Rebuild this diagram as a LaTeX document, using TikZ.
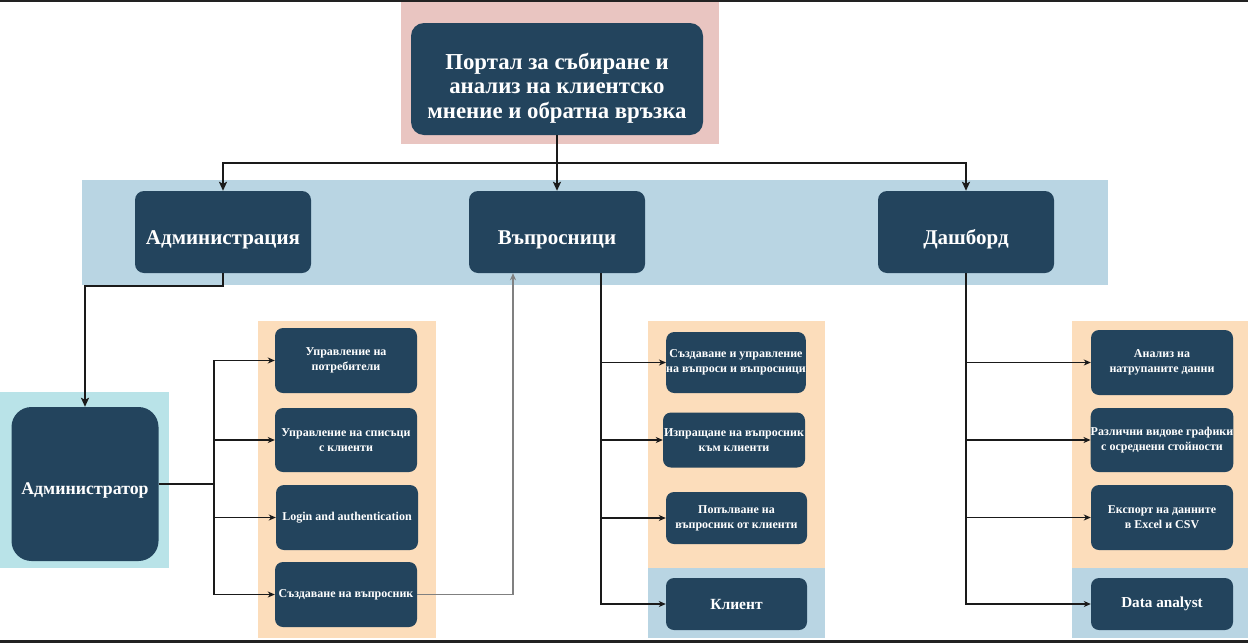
\documentclass[tikz,border=0pt]{standalone}
\usepackage{fontspec}
\setmainfont{Liberation Serif}
\usetikzlibrary{arrows.meta,positioning}

\definecolor{navy}{HTML}{23445D}
\definecolor{pinkbg}{HTML}{E9C5C1}
\definecolor{bluebg}{HTML}{B9D5E3}
\definecolor{cyanbg}{HTML}{B9E3E8}
\definecolor{orangebg}{HTML}{FCDDBB}
\definecolor{linecol}{HTML}{1A1A1A}
\definecolor{barcol}{HTML}{222222}

\newcommand{\fsz}[1]{\fontsize{#1}{1.2\dimexpr#1pt\relax}\selectfont}

\begin{document}
\begin{tikzpicture}[x=1pt, y=-1pt, >=Stealth,
    box/.style={fill=navy, text=white, font=\bfseries, align=center,
        rounded corners=9pt, inner sep=0pt},
    module/.style={box, minimum width=176pt, minimum height=82pt,
        font=\bfseries\fsz{21}, text height=28pt, text depth=4pt},
    leaf/.style={box, minimum width=142pt, minimum height=65pt, rounded corners=8pt,
        font=\bfseries\fontsize{12}{15}\selectfont},
    link/.style={-{Stealth[length=9pt,width=8pt,inset=2pt]}, line width=1.8pt, draw=linecol},
    branch/.style={-{Stealth[length=7pt,width=6pt,inset=2pt]}, line width=1.2pt, draw=linecol}]
    \useasboundingbox (0,0) rectangle (1248,643);

    % Screen edges
    \fill[barcol] (0,0) rectangle (1248,2);
    \fill[barcol] (0,640) rectangle (1248,643);

    % Background bands
    \fill[pinkbg] (401,2) rectangle (719,144);
    \fill[bluebg] (82,180) rectangle (1108,285);
    \fill[cyanbg] (0,392) rectangle (169,568);
    \fill[orangebg] (258,321) rectangle (436,638);
    \fill[orangebg] (648,321) rectangle (825,568);
    \fill[bluebg] (648,568) rectangle (825,638);
    \fill[orangebg] (1072,321) rectangle (1248,568);
    \fill[bluebg] (1072,568) rectangle (1248,638);

    % Portal
    \node[box, minimum width=292pt, minimum height=112pt, rounded corners=13pt,
        font=\bfseries\fontsize{22.8}{24.5}\selectfont, text height=83pt] (portal) at (557,79)
        {Портал за събиране и\\анализ на клиентско\\мнение и обратна връзка};

    % Modules
    \node[module] (admin) at (223,232) {Администрация};
    \node[module] (survey) at (557,232) {Въпросници};
    \node[module] (dash) at (966,232) {Дашборд};

    % Administrator
    \node[box, minimum width=147pt, minimum height=154pt, rounded corners=20pt,
        font=\bfseries\fsz{17.8}, text height=24pt, text depth=4pt] (adminrole) at (85,484) {Администратор};

    % Administration tasks
    \node[leaf] (usr) at (346,360.5) {Управление на\\потребители};
    \node[leaf, minimum height=64pt] (lists) at (346,440) {Управление на списъци\\с клиенти};
    \node[leaf] (login) at (347,517.5) {Login and authentication};
    \node[leaf] (create) at (346,594.5) {Създаване на въпросник};

    % Survey tasks
    \node[leaf, minimum width=138pt, minimum height=61pt] (manage) at (736,362.5) {Създаване и управление\\на въпроси и въпросници};
    \node[leaf, minimum height=55pt] (send) at (734,440) {Изпращане на въпросник\\към клиенти};
    \node[leaf, minimum width=141pt, minimum height=52pt] (fill) at (736.5,518) {Попълване на\\въпросник от клиенти};
    \node[leaf, minimum width=141pt, minimum height=52pt, font=\bfseries\fsz{15.5}] (client) at (736.5,604) {Клиент};

    % Dashboard tasks
    \node[leaf] (analysis) at (1162,362.5) {Анализ на\\натрупаните данни};
    \node[leaf, minimum height=64pt] (charts) at (1162,440) {Различни видове графики\\с осреднени стойности};
    \node[leaf] (export) at (1162,517.5) {Експорт на данните\\в Excel и CSV};
    \node[leaf, minimum height=52pt, font=\bfseries\fsz{15.2}] (analyst) at (1162,604) {Data analyst};

    % Top tree
    \coordinate (split) at (557,163);
    \draw[line width=1.8pt, linecol] (portal.south) -- (split);
    \draw[link] (split) -| (admin.north);
    \draw[link] (split) -- (survey.north);
    \draw[link] (split) -| (dash.north);
    \draw[link] (admin.south) -- ++(0,13) -| (adminrole.north);

    % Administrator branches
    \coordinate (atrunk) at (214,484);
    \draw[line width=1.2pt, linecol] (adminrole.east |- atrunk) -- (atrunk);
    \foreach \t in {usr,lists,login,create}
        \draw[branch] (atrunk) |- (\t.west);
    \draw[branch, draw=gray] (create.east) -| ([xshift=-44pt]survey.south);

    % Survey branches
    \foreach \t in {manage,send,fill,client}
        \draw[branch] ([xshift=44pt]survey.south) |- (\t.west);

    % Dashboard branches
    \foreach \t in {analysis,charts,export,analyst}
        \draw[branch] (dash.south) |- (\t.west);
\end{tikzpicture}
\end{document}
